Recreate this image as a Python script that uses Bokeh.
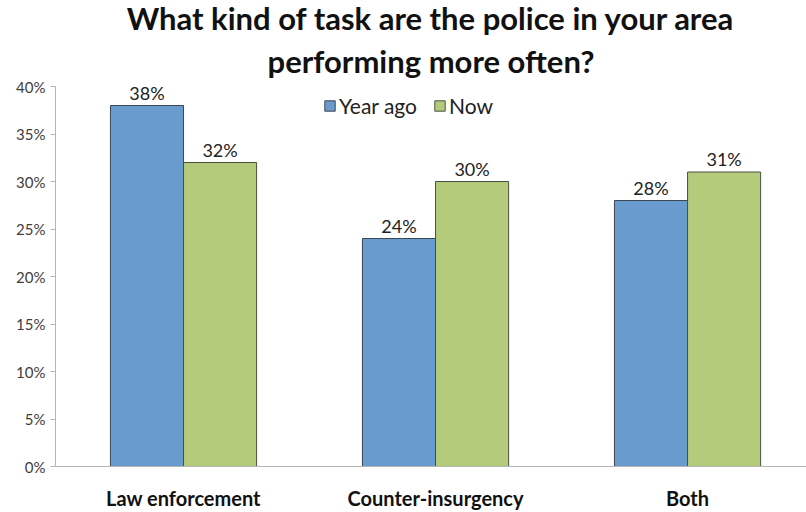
from bokeh.plotting import figure
from bokeh.models import (ColumnDataSource, FixedTicker, NumeralTickFormatter, Legend,
                          LegendItem, Title, Range1d)
from bokeh.core.properties import value
from bokeh.embed import file_html
from bokeh.resources import INLINE

categories = ["Law enforcement", "Counter-insurgency", "Both"]
year_ago = [0.38, 0.24, 0.28]
now = [0.32, 0.30, 0.31]
y_ticks = [0, 0.05, 0.10, 0.15, 0.20, 0.25, 0.30, 0.35, 0.40]

BLUE = "#6a9bcf"
GREEN = "#b3cb7a"
FONT = "Lato"

centers = [i + 0.5 for i in range(len(categories))]
bw = 0.29
src_a = ColumnDataSource(dict(x=[c - bw / 2 for c in centers], y=year_ago,
                              lab=[f"{round(v*100)}%" for v in year_ago]))
src_b = ColumnDataSource(dict(x=[c + bw / 2 for c in centers], y=now,
                              lab=[f"{round(v*100)}%" for v in now]))

p = figure(width=806, height=512, output_backend="svg", toolbar_location=None,
           x_range=Range1d(-0.008, 2.972), y_range=Range1d(0, 0.40),
           min_border_left=55, min_border_right=0, min_border_bottom=0, min_border_top=0)
p.outline_line_color = None
p.grid.grid_line_color = None
p.background_fill_color = "white"

p.title.text = "What kind of task are the police in your area"
p.title.text_font = FONT
p.title.text_font_size = "31px"
p.title.text_font_style = "bold"
p.title.align = "center"
p.title.text_color = "#111111"
p.title.offset = 0
p.title.standoff = -8
p.add_layout(Title(text="performing more often?", text_font=FONT,
                   text_font_size="31px", text_font_style="bold", align="center",
                   text_color="#111111", standoff=14), "above")

r1 = p.vbar(x="x", top="y", width=bw, source=src_a, fill_color=BLUE,
            line_color="#3c4650", line_width=1)
r2 = p.vbar(x="x", top="y", width=bw, source=src_b, fill_color=GREEN,
            line_color="#4a4f44", line_width=1)

for s in (src_a, src_b):
    p.text(x="x", y="y", text="lab", source=s, text_align="center", text_baseline="bottom",
           y_offset=-2, text_font=value(FONT), text_font_size="18px", text_color="#222222")

legend = Legend(items=[LegendItem(label="Year ago", renderers=[r1]),
                       LegendItem(label="Now", renderers=[r2])],
                orientation="horizontal", location=(268, 348),
                label_text_font=FONT, label_text_font_size="21px", label_text_color="#222222",
                glyph_width=13, glyph_height=13, spacing=16, label_standoff=3,
                border_line_color=None, background_fill_alpha=0, padding=4, margin=0)
p.add_layout(legend)

ya = p.yaxis[0]
ya.ticker = FixedTicker(ticks=y_ticks)
ya.formatter = NumeralTickFormatter(format="0%")
ya.axis_line_color = "#b5b5b5"
ya.major_tick_line_color = "#b5b5b5"
ya.major_tick_out = 5
ya.major_tick_in = 0
ya.minor_tick_line_color = None
ya.major_label_text_font = FONT
ya.major_label_text_font_size = "15px"
ya.major_label_text_color = "#404040"
ya.major_label_standoff = 5

xa = p.xaxis[0]
xa.ticker = FixedTicker(ticks=centers)
xa.major_label_overrides = {c: n for c, n in zip(centers, categories)}
xa.axis_line_color = "#b5b5b5"
xa.major_tick_line_color = None
xa.minor_tick_line_color = None
xa.major_label_text_font = FONT
xa.major_label_text_font_size = "20px"
xa.major_label_text_font_style = "bold"
xa.major_label_text_color = "#111111"
xa.major_label_standoff = 13

open("out.html", "w").write(file_html(p, INLINE))
